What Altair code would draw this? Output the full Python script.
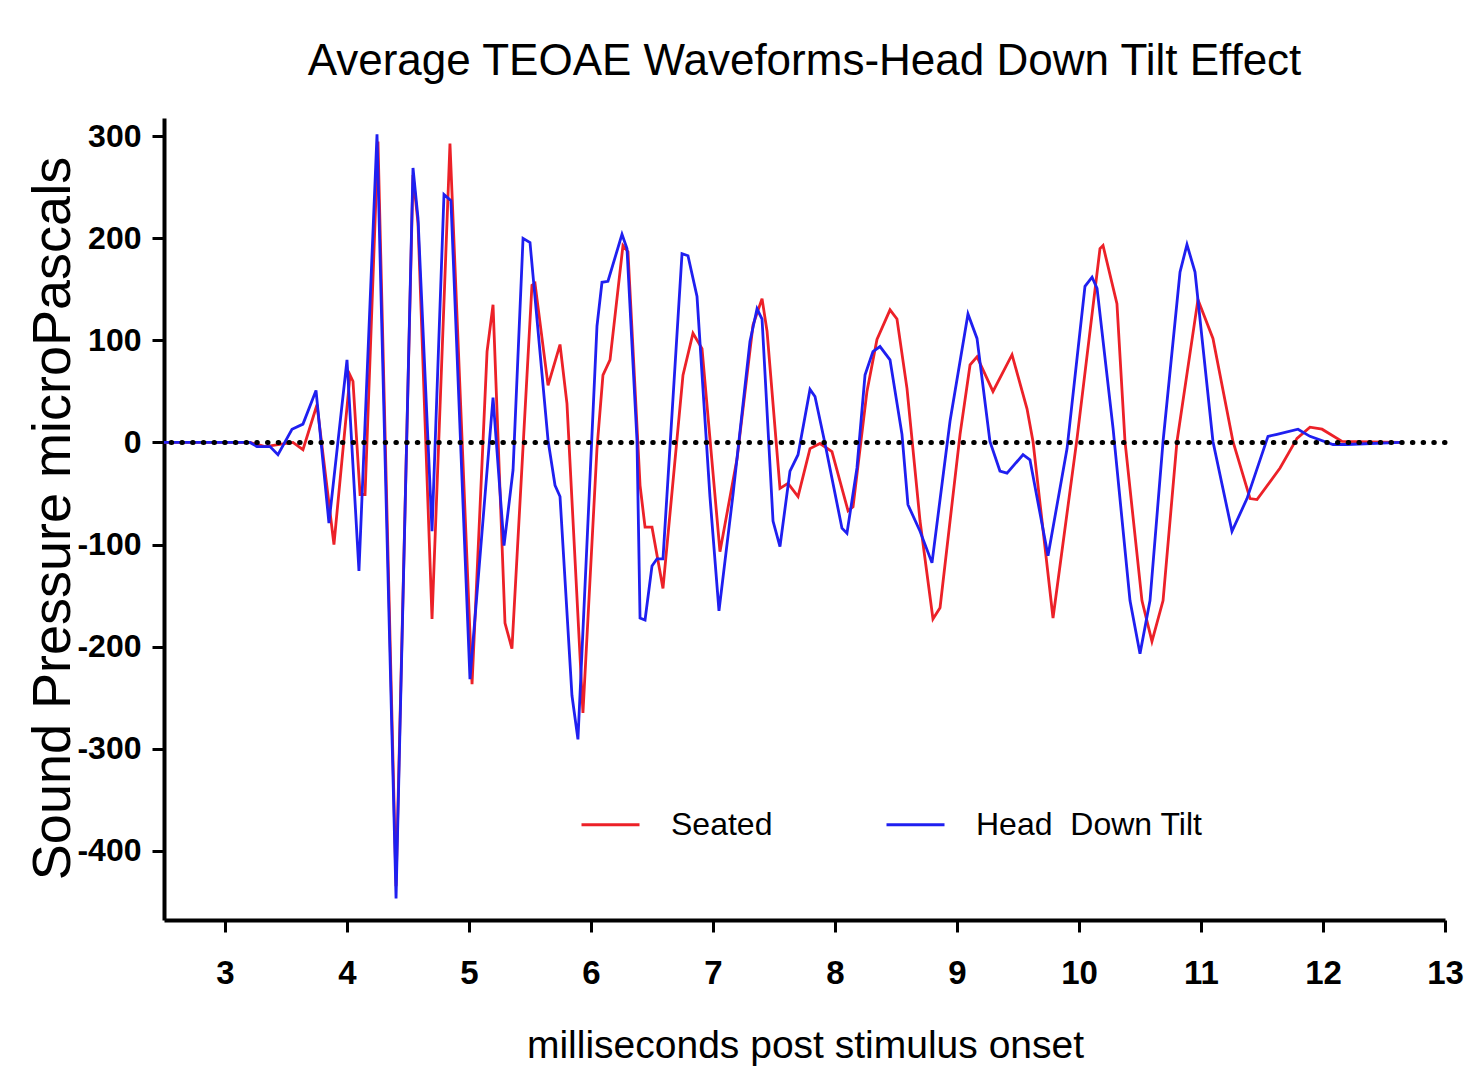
import altair as alt
import pandas as pd

# ---- data ----
seated_t = [2.5, 3.205, 3.328, 3.557, 3.639, 3.754, 3.893, 4.025, 4.049, 4.107, 4.148,
            4.254, 4.402, 4.541, 4.582, 4.697, 4.844, 5.025, 5.148, 5.197, 5.295, 5.352,
            5.516, 5.541, 5.648, 5.746, 5.803, 5.934, 6.049, 6.098, 6.156, 6.262, 6.303,
            6.402, 6.443, 6.500, 6.590, 6.754, 6.836, 6.910, 7.057, 7.197, 7.328, 7.402,
            7.443, 7.549, 7.615, 7.697, 7.795, 7.877, 7.975, 8.107, 8.148, 8.262, 8.344,
            8.451, 8.508, 8.590, 8.697, 8.803, 8.861, 9.025, 9.107, 9.164, 9.295, 9.451,
            9.574, 9.623, 9.787, 9.984, 10.172, 10.197, 10.311, 10.377, 10.516, 10.598,
            10.689, 10.803, 10.975, 11.098, 11.262, 11.402, 11.459, 11.648, 11.787, 11.893,
            11.992, 12.156, 12.631]
seated_v = [0, 0, -4, 0, -7, 37, -100, 66, 60, -51, -51,
            295, -435, 262, 215, -173, 293, -237, 89, 135, -177, -202,
            154, 156, 56, 96, 38, -265, -6, 66, 81, 193, 187,
            -42, -83, -83, -143, 66, 107, 92, -107, -16, 115, 141,
            109, -45, -40, -53, -6, -1, -9, -67, -63, 50, 101,
            130, 121, 53, -77, -173, -162, 8, 76, 84, 50, 86,
            33, 1, -172, 4, 190, 193, 136, 1, -155, -195,
            -155, 1, 140, 102, 1, -55, -56, -25, 4, 15,
            13, 1, 0]

hdt_t = [2.5, 3.205, 3.262, 3.369, 3.434, 3.549, 3.639, 3.746, 3.852, 4.000, 4.098,
         4.246, 4.402, 4.541, 4.582, 4.697, 4.795, 4.852, 5.008, 5.197, 5.287, 5.361,
         5.443, 5.500, 5.648, 5.705, 5.746, 5.844, 5.893, 6.049, 6.090, 6.139, 6.254,
         6.295, 6.377, 6.402, 6.443, 6.500, 6.541, 6.590, 6.746, 6.795, 6.869, 6.975,
         7.049, 7.164, 7.303, 7.361, 7.402, 7.492, 7.549, 7.631, 7.697, 7.795, 7.836,
         7.918, 8.057, 8.098, 8.180, 8.246, 8.311, 8.369, 8.451, 8.549, 8.598, 8.697,
         8.795, 8.943, 9.090, 9.164, 9.270, 9.352, 9.410, 9.541, 9.598, 9.746, 9.902,
         10.049, 10.107, 10.148, 10.279, 10.418, 10.500, 10.582, 10.689, 10.828, 10.885,
         10.951, 11.098, 11.254, 11.377, 11.549, 11.623, 11.795, 11.893, 12.082, 12.197,
         12.631]
hdt_v = [0, 0, -4, -4, -12, 13, 18, 51, -79, 81, -126,
         302, -447, 269, 220, -87, 243, 237, -232, 44, -101, -27,
         200, 196, 2, -42, -53, -248, -291, 114, 157, 158, 204,
         190, 2, -172, -174, -121, -114, -114, 185, 183, 143, -53,
         -165, -51, 99, 131, 121, -77, -102, -28, -12, 52, 45,
         -1, -84, -89, -25, 66, 89, 94, 81, 8, -61, -87,
         -118, 21, 126, 102, 1, -28, -30, -12, -17, -111, -6,
         153, 162, 151, 14, -155, -207, -155, 1, 167, 194,
         167, 1, -87, -55, 6, 8, 13, 6, -2, -2,
         0]

series_names = ["Seated", "Head\u00a0 Down Tilt"]
series_colors = ["#ec2128", "#1f1ff0"]
x_ticks = [3, 4, 5, 6, 7, 8, 9, 10, 11, 12, 13]
y_ticks = [-400, -300, -200, -100, 0, 100, 200, 300]

df = pd.concat([
    pd.DataFrame({"t": seated_t, "v": seated_v, "series": series_names[0], "k": 0}),
    pd.DataFrame({"t": hdt_t, "v": hdt_v, "series": series_names[1], "k": 1}),
], ignore_index=True)

FONT = "Liberation Sans, Arial, sans-serif"
HYPHEN_LABEL = "datum.value < 0 ? '-' + format(-datum.value, 'd') : format(datum.value, 'd')"

x_scale = alt.Scale(domain=[2.5, 13], nice=False, zero=False)
y_scale = alt.Scale(domain=[-468, 318], nice=False, zero=False)

lines = alt.Chart(df).mark_line(strokeWidth=2.8, interpolate="linear").encode(
    x=alt.X("t:Q", scale=x_scale,
            axis=alt.Axis(values=x_ticks, format="d", title="milliseconds post stimulus onset",
                          titleX=641, titleY=137, titleBaseline="alphabetic",
                          titleFont=FONT, titleFontSize=39, titleFontWeight="normal",
                          labelPadding=25, labelFontSize=33, labelFlush=False,
                          labelOverlap=False)),
    y=alt.Y("v:Q", scale=y_scale,
            axis=alt.Axis(values=y_ticks, labelExpr=HYPHEN_LABEL,
                          title="Sound Pressure microPascals",
                          titleX=-95, titleY=400, titleAngle=270, titleBaseline="alphabetic",
                          titleFont=FONT, titleFontSize=54, titleFontWeight="normal",
                          labelPadding=11, labelFontSize=32, labelFlush=False,
                          labelOverlap=False)),
    color=alt.Color("series:N",
                    scale=alt.Scale(domain=series_names, range=series_colors),
                    legend=alt.Legend(orient="none", legendX=416, legendY=676,
                                      direction="horizontal", title=None,
                                      symbolType="stroke", symbolSize=3364,
                                      symbolStrokeWidth=3, labelFont=FONT,
                                      labelFontSize=32, labelColor="black",
                                      labelOffset=30, columnPadding=107, labelLimit=500)),
    detail="series:N",
    order=alt.Order("t:Q"),
)

zero = alt.Chart(pd.DataFrame({"y": [0]})).mark_rule(
    color="black", strokeWidth=5, strokeDash=[0.5, 10.2], strokeCap="round"
).encode(y=alt.Y("y:Q", scale=y_scale))

chart = alt.layer(lines, zero).properties(
    width=1281, height=802,
    autosize=alt.AutoSizeParams(type="none"),
    padding={"left": 164, "top": 118, "right": 24, "bottom": 148},
    title=alt.TitleParams(text="Average TEOAE Waveforms-Head Down Tilt Effect",
                          font=FONT, fontSize=44, fontWeight="normal",
                          color="black", anchor="middle", offset=34),
).configure_view(strokeWidth=0).configure_axis(
    domainColor="black", domainWidth=4, tickColor="black", tickWidth=3, tickSize=12,
    grid=False, labelFont=FONT, labelFontWeight="bold",
    labelColor="black", titleColor="black"
)

chart.save("out.html", embed_options={"renderer": "svg", "actions": False})
